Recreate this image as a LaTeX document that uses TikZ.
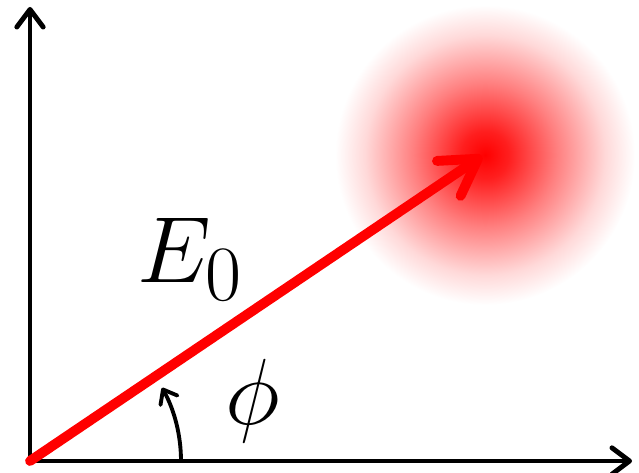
\documentclass[tikz,border=0pt]{standalone}
\usepackage{graphicx}
\usetikzlibrary{arrows.meta}
\pgfdeclareradialshading{glow}{\pgfpoint{0bp}{0bp}}{color(0bp)=(red); color(4bp)=(red!88); color(12bp)=(red!50); color(20bp)=(red!15); color(25bp)=(white); color(50bp)=(white)}
\newcommand{\biglab}[1]{\scalebox{2.15}{\Huge #1}}
\tikzset{
    axis/.style={line width=2.8pt, -{Straight Barb[round,length=10pt,width=15pt]}},
    field/.style={line width=5.6pt, red, line cap=round, -{Straight Barb[round,length=20pt,width=24pt]}},
    anglearrow/.style={line width=2.2pt, -{Straight Barb[round,length=7pt,width=11pt]}},
    biglabel/.style={inner sep=0pt}
}
\begin{document}
\begin{tikzpicture}[x=0.02cm,y=0.02cm]
    \useasboundingbox (0,0) rectangle (639,473);

    % glow around the end of the field
    \shade[shading=glow] (485,318) circle (150);

    \coordinate (O) at (30,12);
    \coordinate (xend) at (632,12);
    \coordinate (yend) at (30,466);
    \coordinate (tip) at (482,317);

    \draw[axis] (O) -- (xend);
    \draw[axis] (O) -- (yend);
    \draw[field] (O) -- (tip);

    % angle
    \draw[anglearrow] (O) ++(0:151) arc (0:29:151);

    \node[biglabel] (E) at (190,214) {\biglab{$E_0$}};
    \node[biglabel] (phi) at (253,72) {\biglab{$\phi$}};
\end{tikzpicture}
\end{document}
